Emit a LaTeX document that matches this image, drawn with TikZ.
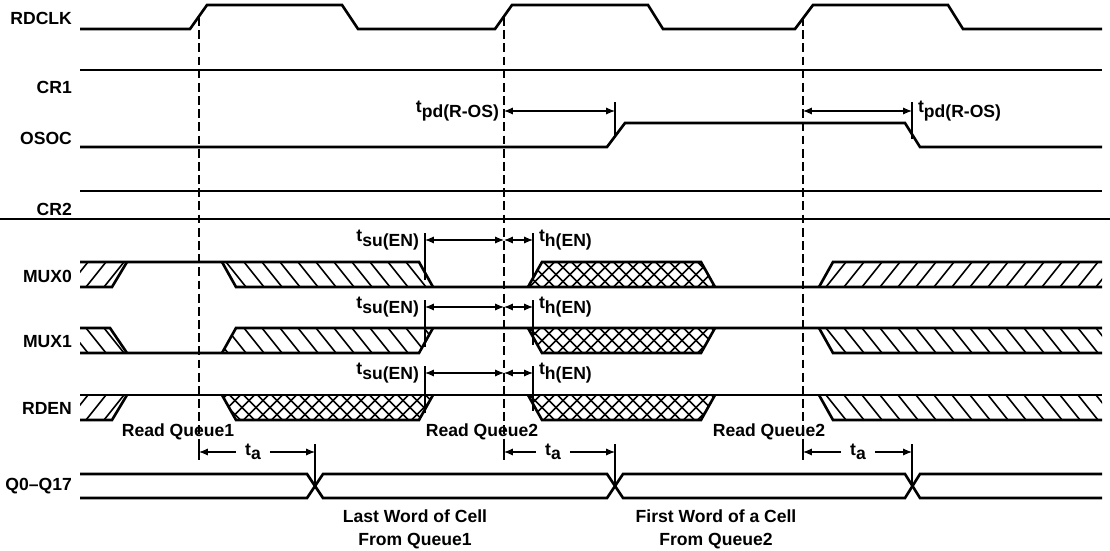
\documentclass[tikz,border=0pt]{standalone}
\usepackage{fontspec}
\setmainfont{Liberation Sans}
\usetikzlibrary{arrows.meta}

\newcommand{\tsym}[1]{t\raisebox{-0.5ex}{\fontsize{10}{10}\selectfont #1}}
\newcommand{\hatchzone}[4]{%
  \begin{scope}
    \clip #1 -- cycle;
    \foreach \hx in {#3}
      \draw[hatchline] ({\hx+(#2)},{#4-25}) -- ({\hx-(#2)},{#4+25});
  \end{scope}}

\begin{document}
\begin{tikzpicture}[x=0.02cm, y=-0.02cm,
  font=\bfseries\fontsize{10}{13}\selectfont,
  sig/.style={line width=1.5pt},
  hatchline/.style={line width=0.9pt},
  guide/.style={line width=0.8pt, dash pattern=on 5pt off 2.5pt},
  dim/.style={line width=0.6pt, >={Latex[length=5pt,width=4pt]}},
  tick/.style={line width=0.6pt}]

\useasboundingbox (0,0) rectangle (1110,551);

\foreach \n/\txt/\y in {rdclk/RDCLK/18, cra/CR1/87, osoc/OSOC/138, crb/CR2/209,
  muxa/MUX0/276, muxb/MUX1/342, rden/RDEN/408, qbus/Q0--Q17/486}
  \node[anchor=east, inner sep=1pt] (\n) at (74,\y) {\txt};

\draw[sig] (80,29) -- (190,29) -- (207,5) -- (342,5) -- (358,29) -- (495,29) -- (512,5) -- (648,5) -- (663,29) -- (795,29) -- (813,5) -- (948,5) -- (963,29) -- (1102,29);
\draw[sig] (80,70) -- (1102,70);
\draw[sig] (80,147) -- (607,147) -- (625,123) -- (905,123) -- (920,147) -- (1102,147);
\draw[sig] (80,191) -- (1102,191);
\draw[line width=0.6pt] (0,219) -- (1110,219);

\hatchzone{(80,262) -- (127,262) -- (112,287) -- (80,287)}{20}{60,78,...,150}{274.5}
\hatchzone{(222,262) -- (419,262) -- (433,287) -- (236,287)}{-20}{200,218,...,460}{274.5}
\hatchzone{(528,287) -- (542,262) -- (701,262) -- (715,287)}{25}{500,514,...,740}{274.5}
\hatchzone{(528,287) -- (542,262) -- (701,262) -- (715,287)}{-25}{500,514,...,740}{274.5}
\hatchzone{(819,287) -- (833,262) -- (1102,262) -- (1102,287)}{20}{800,818,...,1130}{274.5}
\draw[sig] (80,262) -- (419,262) -- (433,287);
\draw[sig] (80,287) -- (112,287) -- (127,262);
\draw[sig] (222,262) -- (236,287) -- (1102,287);
\draw[sig] (528,287) -- (542,262) -- (701,262) -- (715,287);
\draw[sig] (819,287) -- (833,262) -- (1102,262);

\hatchzone{(80,328) -- (110,328) -- (127,353) -- (80,353)}{-20}{60,78,...,150}{340.5}
\hatchzone{(222,353) -- (236,328) -- (433,328) -- (419,353)}{-20}{200,218,...,460}{340.5}
\hatchzone{(528,328) -- (542,353) -- (701,353) -- (715,328)}{25}{500,514,...,740}{340.5}
\hatchzone{(528,328) -- (542,353) -- (701,353) -- (715,328)}{-25}{500,514,...,740}{340.5}
\hatchzone{(819,328) -- (1102,328) -- (1102,353) -- (833,353)}{-20}{800,818,...,1130}{340.5}
\draw[sig] (80,328) -- (110,328) -- (127,353);
\draw[sig] (80,353) -- (419,353) -- (433,328);
\draw[sig] (222,353) -- (236,328) -- (1102,328);
\draw[sig] (528,328) -- (542,353) -- (701,353) -- (715,328);
\draw[sig] (819,328) -- (833,353) -- (1102,353);

\hatchzone{(80,395) -- (127,395) -- (112,420) -- (80,420)}{20}{60,78,...,150}{407.5}
\hatchzone{(222,395) -- (433,395) -- (419,420) -- (236,420)}{25}{200,214,...,460}{407.5}
\hatchzone{(222,395) -- (433,395) -- (419,420) -- (236,420)}{-25}{200,214,...,460}{407.5}
\hatchzone{(528,395) -- (542,420) -- (701,420) -- (715,395)}{25}{500,514,...,740}{407.5}
\hatchzone{(528,395) -- (542,420) -- (701,420) -- (715,395)}{-25}{500,514,...,740}{407.5}
\hatchzone{(819,395) -- (1102,395) -- (1102,420) -- (833,420)}{-20}{800,818,...,1130}{407.5}
\draw[sig] (80,395) -- (1102,395);
\draw[sig] (80,420) -- (112,420) -- (127,395);
\draw[sig] (222,395) -- (236,420) -- (419,420) -- (433,395);
\draw[sig] (528,395) -- (542,420) -- (701,420) -- (715,395);
\draw[sig] (819,395) -- (833,420) -- (1102,420);

\draw[sig] (80,474) -- (307,474) -- (323,498) -- (607,498) -- (623,474) -- (905,474) -- (920,498) -- (1102,498);
\draw[sig] (80,498) -- (307,498) -- (323,474) -- (607,474) -- (623,498) -- (905,498) -- (920,474) -- (1102,474);

\foreach \x [count=\i] in {199,504,803} {
  \coordinate (clk\i) at (\x,17);
  \coordinate (rq\i) at (\x,458);
  \draw[guide] (clk\i) -- (rq\i);
}

\coordinate (pda) at (504,111);
\coordinate (pdb) at (615,111);
\draw[dim,<->] (pda) -- (pdb);
\draw[tick] (615,102) -- (615,137);
\node[anchor=east, inner sep=1pt] (tpda) at (501,111) {\tsym{pd(R-OS)}};
\coordinate (pdc) at (803,111);
\coordinate (pdd) at (912,111);
\draw[dim,<->] (pdc) -- (pdd);
\draw[tick] (912,102) -- (912,139);
\node[anchor=west, inner sep=1pt] (tpdb) at (916,111) {\tsym{pd(R-OS)}};

\foreach \y [count=\r] in {240,307,373} {
  \coordinate (su\r) at (425,\y);
  \coordinate (en\r) at (504,\y);
  \coordinate (hd\r) at (533,\y);
  \draw[dim,<->] (su\r) -- (en\r);
  \draw[dim,<->] (en\r) -- (hd\r);
  \draw[tick] (425,\y-7) -- (425,\y+40);
  \draw[tick] (533,\y-7) -- (533,\y+38);
  \node[anchor=east, inner sep=1pt] (tsu\r) at (421,\y) {\tsym{su(EN)}};
  \node[anchor=west, inner sep=1pt] (th\r) at (537,\y) {\tsym{h(EN)}};
}

\foreach \a/\b/\m [count=\r] in {199/315/253, 504/615/553, 803/912/858} {
  \node[inner sep=1pt] (ta\r) at (\m,452) {\tsym{a}};
  \coordinate (tl\r) at (\a,452);
  \coordinate (tr\r) at (\b,452);
  \draw[dim,->] ([xshift=-4pt]ta\r.west) -- (tl\r);
  \draw[dim,->] ([xshift=4pt]ta\r.east) -- (tr\r);
  \draw[tick] (\a,444) -- (\a,460);
  \draw[tick] (\b,444) -- (\b,486);
}

\node (rqa) at (178,432) {Read Queue1};
\node (rqb) at (482,432) {Read Queue2};
\node (rqc) at (769,432) {Read Queue2};
\node[align=center] (lastw) at (415,529) {Last Word of Cell\\From Queue1};
\node[align=center] (firstw) at (716,529) {First Word of a Cell\\From Queue2};

\end{tikzpicture}
\end{document}
